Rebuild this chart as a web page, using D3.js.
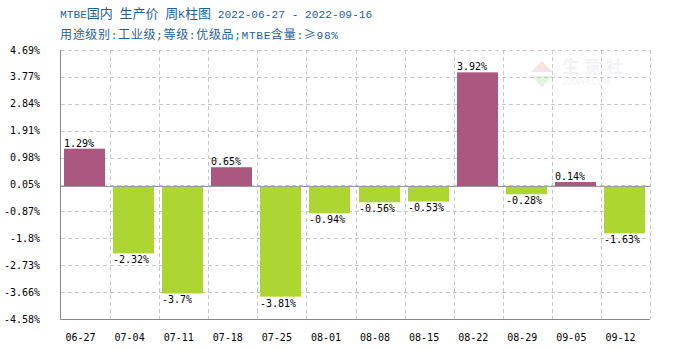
<!DOCTYPE html>
<html><head><meta charset="utf-8">
<script src="https://cdn.jsdelivr.net/npm/d3@7"></script>
<style>body{margin:0;background:#fff}svg{display:block}</style>
</head><body>
<svg id="c" width="700" height="350"></svg>
<script>
const categories = ["06-27","07-04","07-11","07-18","07-25","08-01","08-08","08-15","08-22","08-29","09-05","09-12"];
const values = [1.29,-2.32,-3.7,0.65,-3.81,-0.94,-0.56,-0.53,3.92,-0.28,0.14,-1.63];
const valueLabels = ["1.29%","-2.32%","-3.7%","0.65%","-3.81%","-0.94%","-0.56%","-0.53%","3.92%","-0.28%","0.14%","-1.63%"];
const yTickValues = [4.69,3.77,2.84,1.91,0.98,0.05,-0.87,-1.8,-2.73,-3.66,-4.58];
const yTickLabels = ["4.69%","3.77%","2.84%","1.91%","0.98%","0.05%","-0.87%","-1.8%","-2.73%","-3.66%","-4.58%"];
const titleText = "MTBE国内 生产价 周K柱图 2022-06-27 - 2022-09-16";
const subtitleText = "用途级别:工业级;等级:优级品;MTBE含量:≥98%";

const svg = d3.select("#c");
const L = 61, R = 650, T = 50, B = 319;
const mono = "'DejaVu Sans Mono','Liberation Mono',monospace";
const x = d3.scaleBand().domain(categories).range([L, R]).padding(0);
const y = d3.scaleLinear().domain([-4.58, 4.69]).range([B, T]);

// titles: split into CJK / Latin runs
function runs(s) {
  const out = []; const re = /([\u3000-\u9fff\uff00-\uffef≥]+)|([^\u3000-\u9fff\uff00-\uffef≥]+)/g; let m;
  while ((m = re.exec(s))) out.push({ t: m[0], cjk: !!m[1] });
  return out;
}
function richText(s, yy, cjkSize, extra) {
  const t = svg.append("text").attr("x", 60).attr("y", yy).attr("fill", "#1f5f99").attr("xml:space", "preserve")
    .style("white-space", "pre");
  runs(s).forEach(r => {
    t.append("tspan").attr("font-family", r.cjk ? "'Noto Sans CJK SC',sans-serif" : "'Liberation Mono',monospace")
      .attr("font-size", r.cjk ? cjkSize : 11.2).text(r.t);
  });
  if (extra) extra(t);
  return t;
}
richText(titleText, 18, 13);
richText(subtitleText, 39, 12, t => t.attr("textLength", 278).attr("lengthAdjust", "spacing"));

// watermark
const wm = svg.append("g").attr("opacity", 0.5);
wm.append("text").attr("x", 562).attr("y", 73).attr("fill", "#e6e6ee").attr("font-size", 17).attr("font-weight", "bold")
  .attr("font-family", "'Noto Sans CJK SC',sans-serif").attr("letter-spacing", 5).text("生意社");
wm.append("text").attr("x", 562).attr("y", 85).attr("fill", "#e6e6ee").attr("font-size", 8)
  .attr("font-family", "'DejaVu Sans',sans-serif").text("100PPI.COM");
wm.append("path").attr("d", "M531,72 L542,61 L553,72 Z").attr("fill", "#f0c8c8");
wm.append("path").attr("d", "M531,76 L542,87 L553,76 Z").attr("fill", "#c8e8c8");

// grid
const grid = svg.append("g").attr("stroke", "#c8c8c8").attr("stroke-dasharray", "4,3").attr("stroke-width", 1);
yTickValues.forEach(v => {
  grid.append("line").attr("x1", L).attr("x2", R).attr("y1", Math.round(y(v)) + 0.5).attr("y2", Math.round(y(v)) + 0.5);
});
categories.forEach((c, i) => {
  const xx = Math.round(x(c) + x.bandwidth()) + 0.5;
  grid.append("line").attr("x1", xx).attr("x2", xx).attr("y1", T).attr("y2", B);
});

// y axis labels
svg.append("g").selectAll("text").data(yTickValues).join("text")
  .attr("x", 40).attr("y", d => y(d) + 3.5).attr("text-anchor", "end")
  .attr("font-family", mono).attr("font-size", 10).attr("fill", "#000")
  .text((d, i) => yTickLabels[i]);

// bars
const bw = 41;
svg.append("g").selectAll("rect").data(values).join("rect")
  .attr("x", (d, i) => Math.round(x(categories[i]) + 3))
  .attr("width", bw)
  .attr("y", d => d >= 0 ? y(d) : y(0))
  .attr("height", d => Math.abs(y(d) - y(0)))
  .attr("fill", d => d >= 0 ? "#ab5881" : "#add633");

// zero line
svg.append("line").attr("x1", L).attr("x2", R).attr("y1", Math.round(y(0)) + 0.5).attr("y2", Math.round(y(0)) + 0.5)
  .attr("stroke", "#999").attr("stroke-width", 1);

// value labels
svg.append("g").selectAll("text").data(values).join("text")
  .attr("x", (d, i) => Math.round(x(categories[i]) + 3))
  .attr("y", d => d >= 0 ? y(d) - 2 : y(d) + 10)
  .attr("font-family", mono).attr("font-size", 10).attr("fill", "#000")
  .text((d, i) => valueLabels[i]);

// axes lines
svg.append("line").attr("x1", L - 0.5).attr("x2", L - 0.5).attr("y1", T).attr("y2", B + 0.5).attr("stroke", "#888");
svg.append("line").attr("x1", L - 0.5).attr("x2", R).attr("y1", B + 0.5).attr("y2", B + 0.5).attr("stroke", "#888");

// x labels
svg.append("g").selectAll("text").data(categories).join("text")
  .attr("x", d => x(d) + x.bandwidth() / 2 - 5).attr("y", 341).attr("text-anchor", "middle")
  .attr("font-family", mono).attr("font-size", 10).attr("fill", "#000")
  .text(d => d);
</script>
</body></html>
